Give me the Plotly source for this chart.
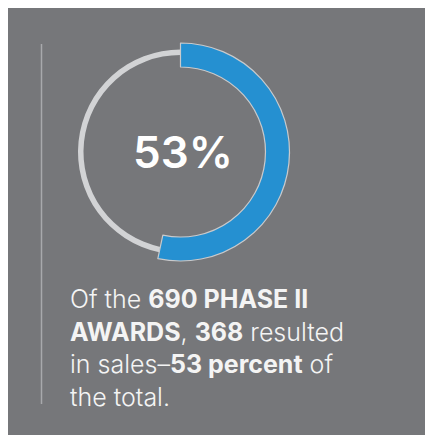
import plotly.graph_objects as go

# Data
total_awards = 690
awards_with_sales = 368
slice_labels = ["Resulted in sales", "No sales"]
slice_values = [awards_with_sales, total_awards - awards_with_sales]
center_label = "53%"
caption_lines = [
    "Of the <b>690 PHASE II</b>",
    "<b>AWARDS</b>, <b>368</b> resulted",
    "in sales\u2013<b>53 percent</b> of",
    "the total.",
]

# page body has an 8px margin, so the figure is drawn 8px in
OFF = 8
W, H = 433 - OFF, 435 - OFF
BG_PANEL = "#76777a"
BLUE = "#2590d1"
RING_GRAY = "#d2d3d5"
TEXT_FONT = "Inter"


def px(x):
    return (x - OFF) / W


def py(y):
    return 1 - (y - OFF) / H


cx, cy = 180.5, 152.0
r_blue, r_gray = 109.0, 102.5


def dom(r):
    return dict(x=[px(cx - r), px(cx + r)], y=[py(cy + r), py(cy - r)])


fig = go.Figure()

# thin gray ring (full circle behind)
fig.add_trace(go.Pie(
    labels=slice_labels, values=slice_values,
    domain=dom(r_gray), hole=97.0 / r_gray,
    sort=False, direction="clockwise", rotation=0,
    marker=dict(colors=[RING_GRAY, RING_GRAY], line=dict(width=0)),
    textinfo="none", hoverinfo="skip", showlegend=False,
))

# thick blue arc for the share with sales
fig.add_trace(go.Pie(
    labels=slice_labels, values=slice_values,
    domain=dom(r_blue), hole=85.0 / r_blue,
    sort=False, direction="clockwise", rotation=0,
    marker=dict(colors=[BLUE, "rgba(0,0,0,0)"],
                line=dict(color=["#c9cacc", "rgba(0,0,0,0)"], width=[1.2, 0])),
    textinfo="none", hoverinfo="label+value", showlegend=False,
))

fig.update_layout(
    width=W, height=H,
    margin=dict(l=0, r=0, t=0, b=0),
    paper_bgcolor=BG_PANEL,
    plot_bgcolor=BG_PANEL,
    shapes=[
        dict(type="line", xref="paper", yref="paper",
             x0=px(41.5), x1=px(41.5), y0=py(404), y1=py(44),
             line=dict(color="#a8a9ac", width=1.5)),
    ],
    annotations=[
        dict(text=center_label, x=px(182.5), y=py(152),
             xref="paper", yref="paper", xanchor="center", yanchor="middle",
             showarrow=False,
             font=dict(family=TEXT_FONT, size=44, color="white", weight=600)),
        dict(text="<br>".join(caption_lines), x=px(67.5), y=py(282),
             xref="paper", yref="paper", xanchor="left", yanchor="top",
             align="left", showarrow=False,
             font=dict(family=TEXT_FONT, size=25, color="#f4f4f4", weight=300)),
    ],
)

fig.write_html("out.html")
